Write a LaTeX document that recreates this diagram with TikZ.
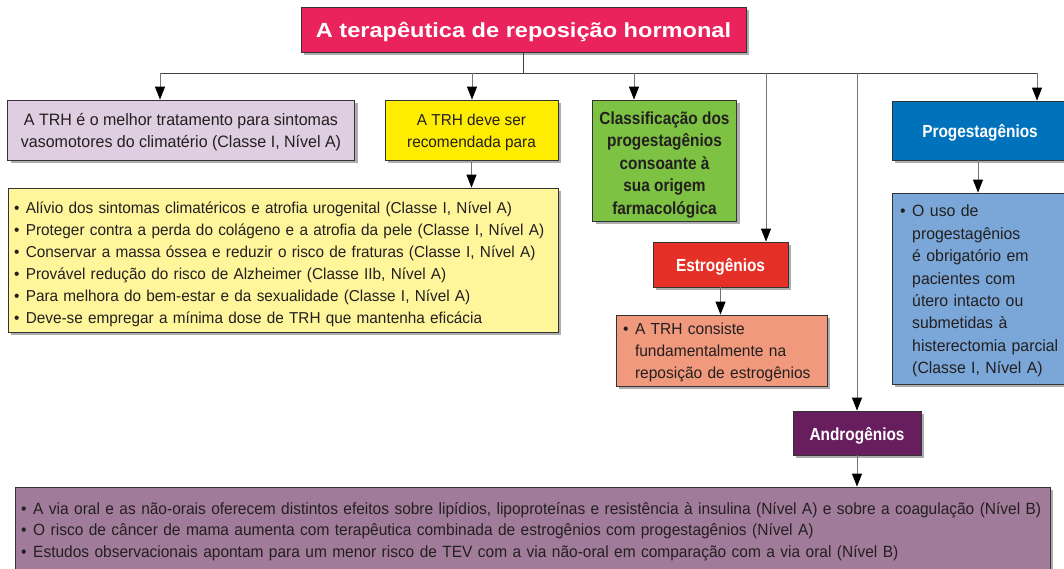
\documentclass[tikz,border=0pt]{standalone}
\usepackage{fontspec}
\setmainfont{Liberation Sans}
\newfontfamily\bodyf[FakeStretch=0.97]{Liberation Sans}
\newfontfamily\narrowf[FakeStretch=0.95]{Liberation Sans}
\newfontfamily\headf[FakeStretch=0.88]{Liberation Sans}
\newfontfamily\titlef[FakeStretch=1.15]{Liberation Sans}
\usetikzlibrary{arrows.meta,shadows}
\definecolor{cTitle}{RGB}{234,35,92}
\definecolor{cLav}{RGB}{223,206,226}
\definecolor{cYel}{RGB}{255,237,0}
\definecolor{cLYel}{RGB}{255,245,155}
\definecolor{cGreen}{RGB}{125,194,66}
\definecolor{cRed}{RGB}{228,48,38}
\definecolor{cSalmon}{RGB}{240,153,124}
\definecolor{cBlue}{RGB}{0,114,188}
\definecolor{cLBlue}{RGB}{122,167,216}
\definecolor{cPurp}{RGB}{104,30,94}
\definecolor{cMauve}{RGB}{161,124,154}
\definecolor{cText}{RGB}{35,31,32}
\newcommand\bl{\makebox[0.75em][l]{\textbullet}}
\newcommand\ind{\hspace*{0.75em}}
\newcommand\tp[1]{\rule{0pt}{#1}}
\tikzset{
  box/.style={draw=black!80, line width=0.8pt, rectangle, inner sep=0pt,
    drop shadow={shadow xshift=3pt, shadow yshift=-3pt, fill=black!40, opacity=0.8}},
  body/.style={font=\bodyf\fontsize{#1}{22}\selectfont, text=cText},
  body/.default=16,
  head/.style={font=\headf\bfseries\fontsize{17.5}{22.5}\selectfont},
  onel/.style={text height=18pt, text depth=4pt},
  bus/.style={draw=black!75, line width=0.9pt},
  drop/.style={draw=black!55, line width=0.9pt, -{Triangle[length=13pt,width=10pt,color=black]}},
}
\begin{document}
\begin{tikzpicture}[x=1pt,y=-1pt]
\useasboundingbox (0,0) rectangle (1064,569);
% boxes
\node[box, fill=cTitle, minimum width=445pt, minimum height=45pt, text=white, text height=19pt, text depth=4pt,
  font=\titlef\bfseries\fontsize{20.5}{24}\selectfont] (title) at (523.5,30) {A terapêutica de reposição hormonal};
\node[box, body=16.5, fill=cLav, minimum width=347pt, minimum height=60pt, align=center] (b1) at (181,130)
  {\tp{16pt}A TRH é o melhor tratamento para sintomas\\vasomotores do climatério (Classe I, Nível A)};
\node[box, body=15.8, fill=cYel, minimum width=173pt, minimum height=60pt, align=center] (b2) at (471.5,130)
  {\tp{16pt}A TRH deve ser\\recomendada para};
\node[box, body=15.8, fill=cLYel, minimum width=550pt, minimum height=144pt, text width=538pt, align=left] (list) at (283,260)
  {\tp{21pt}\bl Alívio dos sintomas climatéricos e atrofia urogenital (Classe I, Nível A)\\
   \bl Proteger contra a perda do colágeno e a atrofia da pele (Classe I, Nível A)\\
   \bl Conservar a massa óssea e reduzir o risco de fraturas (Classe I, Nível A)\\
   \bl Provável redução do risco de Alzheimer (Classe IIb, Nível A)\\
   \bl Para melhora do bem-estar e da sexualidade (Classe I, Nível A)\\
   \bl Deve-se empregar a mínima dose de TRH que mantenha eficácia};
\node[box, head, fill=cGreen, text=cText, minimum width=144pt, minimum height=121pt, align=center] (green) at (664.5,160.5)
  {\tp{21pt}Classificação dos\\progestagênios\\consoante à\\sua origem\\farmacológica};
\node[box, head, onel, fill=cRed, text=white, minimum width=135pt, minimum height=45pt] (estro) at (720.5,264.5) {Estrogênios};
\node[box, body=16, fill=cSalmon, minimum width=211pt, minimum height=71pt, text width=197pt, align=left] (elist) at (721.5,350.5)
  {\tp{15pt}\bl A TRH consiste\\\ind fundamentalmente na\\\ind reposição de estrogênios};
\node[box, head, onel, fill=cBlue, text=white, minimum width=176pt, minimum height=59pt] (prog) at (980,130.5) {Progestagênios};
\node[box, fill=cLBlue, font=\bodyf\fontsize{16.3}{22.4}\selectfont, text=cText, minimum width=176pt, minimum height=191pt, text width=160pt, align=left] (plist) at (980,288.5)
  {\tp{17pt}\bl O uso de\\\ind progestagênios\\\ind é obrigatório em\\\ind pacientes com\\\ind útero intacto ou\\\ind submetidas à\\\ind histerectomia parcial\\\ind (Classe I, Nível A)};
\node[box, head, onel, fill=cPurp, text=white, minimum width=128pt, minimum height=44pt] (andro) at (857,433) {Androgênios};
\node[box, fill=cMauve, text=cText, font=\narrowf\fontsize{16.3}{21.5}\selectfont, minimum width=1035pt, minimum height=86pt, text width=1023pt, align=left] (bottom) at (532.5,530)
  {\tp{15pt}\bl A via oral e as não-orais oferecem distintos efeitos sobre lipídios, lipoproteínas e resistência à insulina (Nível A) e sobre a coagulação (Nível B)\\
   \bl O risco de câncer de mama aumenta com terapêutica combinada de estrogênios com progestagênios (Nível A)\\
   \bl Estudos observacionais apontam para um menor risco de TEV com a via não-oral em comparação com a via oral (Nível B)};
% connectors
\coordinate (jL) at (160,73);
\coordinate (jR) at (1037,73);
\coordinate (j2) at (472,73);
\coordinate (j3) at (634,73);
\coordinate (j4) at (766,73);
\coordinate (j5) at (857,73);
\coordinate (px) at (978,0);
\draw[bus] (title.south) -- (title.south |- jL);
\draw[bus] (jL) -- (jR);
\draw[drop] (jL) -- (b1.north -| jL);
\draw[drop] (j2) -- (b2.north -| j2);
\draw[drop] (j3) -- (green.north -| j3);
\draw[drop] (j4) -- (estro.north -| j4);
\draw[drop] (j5) -- (andro.north);
\draw[drop] (jR) -- (prog.north -| jR);
\draw[drop] (b2.south) -- (list.north -| b2.south);
\draw[drop] (estro.south) -- (elist.north -| estro.south);
\draw[drop] (prog.south -| px) -- (plist.north -| px);
\draw[drop] (andro.south) -- (bottom.north -| andro.south);
\end{tikzpicture}
\end{document}
